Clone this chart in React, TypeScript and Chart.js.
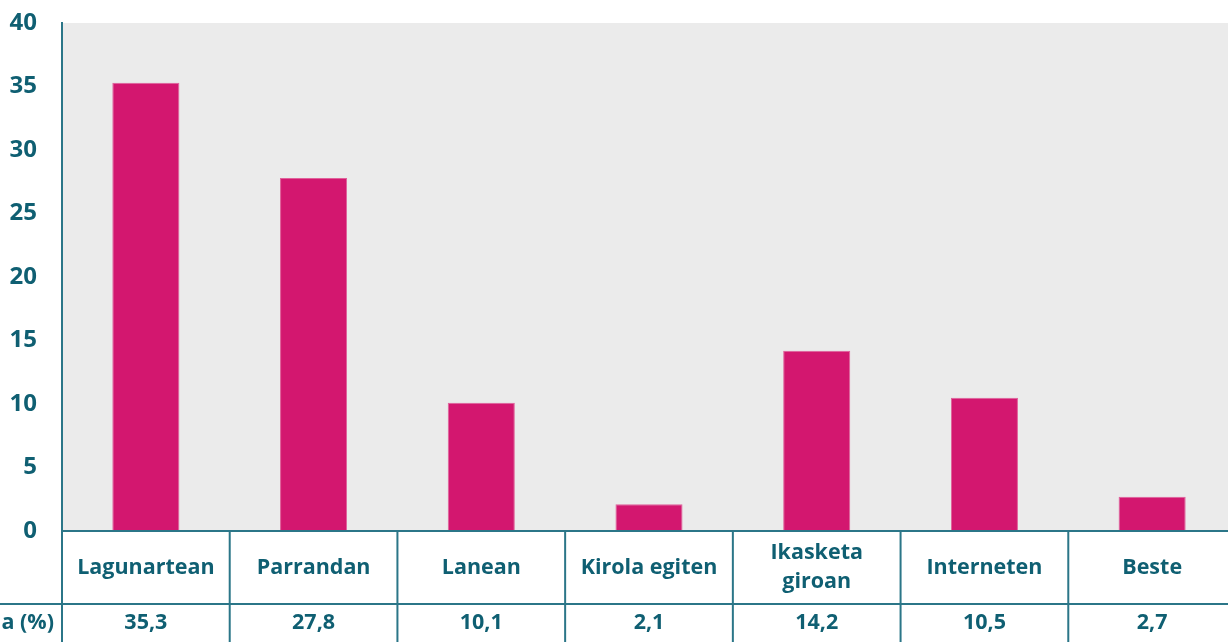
import React, { useEffect, useRef } from "react";
import { Chart, registerables } from "chart.js";

Chart.register(...registerables);

const categories: string[][] = [
  ["Lagunartean"],
  ["Parrandan"],
  ["Lanean"],
  ["Kirola egiten"],
  ["Ikasketa", "giroan"],
  ["Interneten"],
  ["Beste"],
];
const values: number[] = [35.3, 27.8, 10.1, 2.1, 14.2, 10.5, 2.7];
const valueLabels: string[] = ["35,3", "27,8", "10,1", "2,1", "14,2", "10,5", "2,7"];
const rowHeader = "a (%)";
const yTicks: number[] = [0, 5, 10, 15, 20, 25, 30, 35, 40];

const TEAL_TEXT = "#0f5f72";
const TEAL_LINE = "#2b7688";
const BAR = "#d3176f";
const FONT = "'Open Sans', sans-serif";

export default function App() {
  const ref = useRef<HTMLCanvasElement | null>(null);

  useEffect(() => {
    if (!ref.current) return;
    const tablePlugin = {
      id: "tablePlugin",
      beforeDraw(chart: any) {
        const { ctx, chartArea } = chart;
        ctx.save();
        ctx.fillStyle = "#ebebeb";
        ctx.fillRect(chartArea.left, chartArea.top, chartArea.right - chartArea.left, chartArea.bottom - chartArea.top);
        ctx.restore();
      },
      afterDraw(chart: any) {
        const { ctx, chartArea } = chart;
        const x = chart.scales.x;
        const H = chart.height;
        const top = chartArea.bottom;
        const mid = top + 73;
        const n = categories.length;
        const half = (x.getPixelForValue(1) - x.getPixelForValue(0)) / 2;
        ctx.save();
        ctx.strokeStyle = TEAL_LINE;
        ctx.lineWidth = 2;
        ctx.beginPath();
        ctx.moveTo(chartArea.left, top);
        ctx.lineTo(chartArea.right, top);
        ctx.moveTo(0, mid);
        ctx.lineTo(chartArea.right, mid);
        ctx.moveTo(chartArea.left, chartArea.top);
        ctx.lineTo(chartArea.left, H);
        for (let i = 0; i < n; i++) {
          const bx = x.getPixelForValue(i) + half;
          ctx.moveTo(bx, top);
          ctx.lineTo(bx, H);
        }
        ctx.stroke();

        ctx.fillStyle = TEAL_TEXT;
        ctx.font = `bold 21.5px ${FONT}`;
        ctx.textAlign = "center";
        ctx.textBaseline = "middle";
        const rowMid1 = (top + mid) / 2;
        const rowMid2 = (mid + H) / 2;
        for (let i = 0; i < n; i++) {
          const cx = x.getPixelForValue(i);
          const lines = categories[i];
          const lh = 29;
          lines.forEach((l, j) => {
            const y = rowMid1 + (j - (lines.length - 1) / 2) * lh;
            ctx.fillText(l, cx, y);
          });
          ctx.fillText(valueLabels[i], cx, rowMid2);
        }
        ctx.textAlign = "right";
        ctx.fillText(rowHeader, chartArea.left - 8, rowMid2);
        ctx.restore();
      },
    };

    const chart = new Chart(ref.current, {
      type: "bar",
      data: {
        labels: categories.map((c) => c.join(" ")),
        datasets: [
          {
            data: values,
            backgroundColor: BAR,
            borderColor: "#e0609a",
            borderWidth: 1,
            barPercentage: 0.4,
            categoryPercentage: 1,
          },
        ],
      },
      options: {
        responsive: false,
        animation: false,
        layout: { padding: { top: 23, bottom: 111, left: 0, right: 0 } },
        plugins: { legend: { display: false }, tooltip: { enabled: false } },
        scales: {
          x: {
            display: true,
            grid: { display: false, drawTicks: false },
            border: { display: false },
            ticks: { display: false },
            afterFit: (s: any) => {
              s.height = 0;
              s.paddingLeft = 0;
              s.paddingRight = 0;
            },
          },
          y: {
            min: 0,
            max: 40,
            afterBuildTicks: (s: any) => {
              s.ticks = yTicks.map((v) => ({ value: v }));
            },
            afterFit: (s: any) => {
              s.width = 62;
              s.paddingTop = 0;
              s.paddingBottom = 0;
            },
            grid: { display: false, drawTicks: false },
            border: { display: true, color: TEAL_LINE, width: 2 },
            ticks: {
              padding: 25,
              color: TEAL_TEXT,
              font: { family: FONT, size: 24, weight: "bold" },
            },
          },
        },
      },
      plugins: [tablePlugin],
    });
    return () => chart.destroy();
  }, []);

  return (
    <div style={{ position: "fixed", left: 0, top: 0, width: 1228, height: 642, overflow: "hidden", background: "#fff" }}>
      <canvas ref={ref} width={1236} height={642} style={{ display: "block" }} />
    </div>
  );
}
